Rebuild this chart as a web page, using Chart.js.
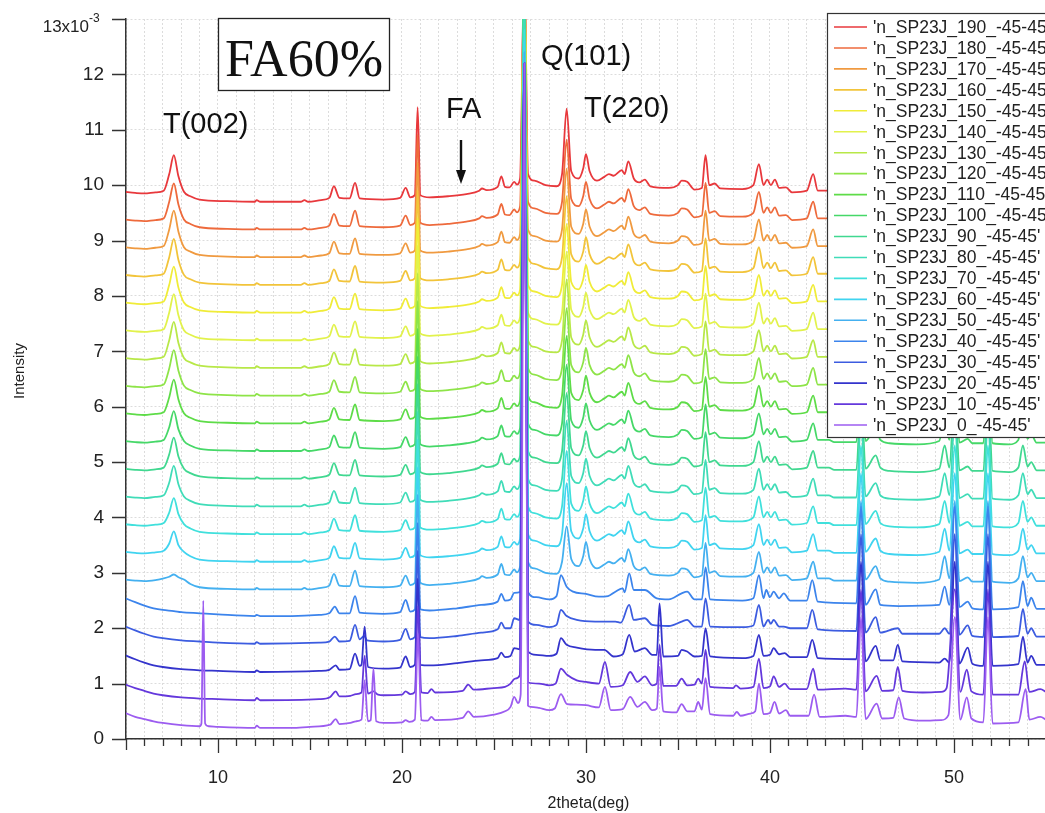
<!DOCTYPE html>
<html>
<head>
<meta charset="utf-8">
<script src="https://cdn.jsdelivr.net/npm/chart.js@4.4.1/dist/chart.umd.min.js"></script>
<style>
  html, body { margin: 0; padding: 0; background: #fff; }
  #wrap { width: 1045px; height: 813px; }
</style>
</head>
<body>
<div id="wrap"><canvas id="xrd" width="1045" height="813"></canvas></div>
<script>
/* ==========================
   Séries (de cima para baixo, como na legenda)
   ========================== */
const seriesNames = [
  "'n_SP23J_190_-45-45'", "'n_SP23J_180_-45-45'", "'n_SP23J_170_-45-45'",
  "'n_SP23J_160_-45-45'", "'n_SP23J_150_-45-45'", "'n_SP23J_140_-45-45'",
  "'n_SP23J_130_-45-45'", "'n_SP23J_120_-45-45'", "'n_SP23J_110_-45-45'",
  "'n_SP23J_100_-45-45'", "'n_SP23J_90_-45-45'", "'n_SP23J_80_-45-45'",
  "'n_SP23J_70_-45-45'", "'n_SP23J_60_-45-45'", "'n_SP23J_50_-45-45'",
  "'n_SP23J_40_-45-45'", "'n_SP23J_30_-45-45'", "'n_SP23J_20_-45-45'",
  "'n_SP23J_10_-45-45'", "'n_SP23J_0_-45-45'"
];
const seriesColors = [
  "#e8383c", "#ee6a3c", "#f09a40", "#f2c43a", "#f0ec38", "#e2f24c", "#b8e848",
  "#8ee448", "#5edc48", "#46d868", "#40d890", "#40dcb8", "#40e0dc", "#40d4f0",
  "#44b0f0", "#3c84ec", "#3c5ce0", "#3434cc", "#6438dc", "#9c5cf0"
];
// valor da linha de base de cada série em 2theta = 12 (x10^-3)
const baselines = [9.7, 9.2, 8.7, 8.2, 7.7, 7.2, 6.7, 6.2, 5.7, 5.2,
                   4.7, 4.2, 3.7, 3.2, 2.7, 2.2, 1.7, 1.2, 0.7, 0.2];

// pico T(002) acima da base, séries 190 .. 50: subida (7.35), topo (7.6), descida (7.85)
const t002Rise = [0.5, 0.5, 0.5, 0.5, 0.5, 0.5, 0.5, 0.49, 0.47, 0.43,
                  0.44, 0.43, 0.39, 0.33, 0.23];
const t002Height = [0.84, 0.83, 0.84, 0.83, 0.83, 0.83, 0.83, 0.82, 0.79, 0.72,
                    0.74, 0.73, 0.65, 0.55, 0.27];
const t002Fall = [0.46, 0.45, 0.46, 0.45, 0.45, 0.45, 0.45, 0.45, 0.43, 0.39,
                  0.4, 0.4, 0.36, 0.3, 0.22];
// pico T(220) acima da base, séries 190 .. 50
const t220Height = [1.68, 1.62, 1.6, 1.6, 1.6, 1.6, 1.6, 1.58, 1.58, 1.56,
                    1.55, 1.55, 1.5, 1.42, 1.14];
// topo do pico Q(101) (valor absoluto, x10^-3)
const q101Top = [14, 14, 14, 14, 14, 14, 14, 14, 14, 14,
                 14, 14, 12.8, 12.6, 12.4, 12.2, 12.2, 12.2, 12.2, 12.2];

/* --------------------------
   Perfis [2theta, intensidade acima da base]
   -------------------------- */
// séries 190 .. 50 (T(002), T(220) e Q(101) entram à parte)
const upperProfile = [
  [4.9, 0.18], [5.5, 0.16], [6.0, 0.15], [6.6, 0.17], [7.05, 0.2],
  [8.15, 0.18], [8.5, 0.1], [9.0, 0.04], [10.5, 0.01], [12.0, 0],
  [12.1, 0.03], [12.3, 0], [14.5, 0], [14.7, 0.03], [14.9, 0], [15.6, 0.03],
  [16.05, 0.07], [16.3, 0.28], [16.6, 0.07], [17.15, 0.06], [17.45, 0.34],
  [17.7, 0.06], [19.0, 0.04], [19.9, 0.07], [20.2, 0.25], [20.45, 0.08],
  [20.7, 0.12], [20.85, 1.71], [21.0, 0.12], [21.5, 0.08], [22.5, 0.1],
  [23.5, 0.14], [24.2, 0.2], [24.35, 0.24], [24.6, 0.21], [25.2, 0.27],
  [25.4, 0.46], [25.6, 0.27], [25.85, 0.26], [26.1, 0.36], [26.25, 0.31],
  [26.42, 0.42], [26.85, 0.5], [27.2, 0.38], [27.8, 0.3], [28.4, 0.28],
  [28.7, 0.5], [29.2, 0.55], [29.6, 0.42], [29.85, 0.6], [30.0, 0.86],
  [30.2, 0.55], [30.6, 0.38], [31.0, 0.45], [31.25, 0.5], [31.5, 0.47],
  [31.95, 0.57], [32.1, 0.5], [32.3, 0.73], [32.6, 0.42], [32.9, 0.35],
  [33.2, 0.4], [33.5, 0.28], [34.5, 0.25], [35.0, 0.3], [35.2, 0.38],
  [35.5, 0.36], [35.9, 0.22], [36.3, 0.25], [36.5, 0.84], [36.7, 0.3],
  [37.0, 0.33], [37.3, 0.24], [38.5, 0.23], [39.1, 0.3], [39.4, 0.68],
  [39.65, 0.3], [39.85, 0.4], [40.05, 0.3], [40.27, 0.4], [40.5, 0.25],
  [40.87, 0.26], [41.2, 0.17], [42.0, 0.2], [42.35, 0.5], [42.6, 0.2],
  [43.2, 0.2], [43.5, 0.16], [44.7, 0.16], [44.95, 1.6], [45.2, 0.18],
  [45.75, 0.42], [46.0, 0.2], [46.5, 0.14], [48.0, 0.12], [49.2, 0.18],
  [49.5, 0.6], [49.75, 0.2], [50.05, 1.6], [50.3, 0.15], [50.75, 0.22],
  [51.0, 0.14], [51.6, 0.14], [51.85, 1.6], [52.1, 0.14], [53.0, 0.12],
  [53.5, 0.2], [53.75, 0.6], [54.0, 0.22], [54.2, 0.3], [54.5, 0.15], [55.0, 0.15]
];
const profile40 = [
  [4.9, 0.35], [5.5, 0.27], [6.0, 0.21], [6.5, 0.16], [7.0, 0.13], [7.6, 0.11],
  [8.0, 0.09], [9.0, 0.07], [10.0, 0.05], [12.0, 0.02], [12.1, 0.04], [12.3, 0.02],
  [14.0, 0.02], [15.5, 0.04], [16.05, 0.07], [16.35, 0.19], [16.6, 0.07],
  [17.15, 0.07], [17.45, 0.38], [17.7, 0.08], [19.0, 0.06], [19.9, 0.09],
  [20.2, 0.31], [20.45, 0.1], [20.7, 0.14], [20.85, 1.7], [21.0, 0.14],
  [21.5, 0.12], [23.0, 0.16], [24.3, 0.22], [25.2, 0.28], [25.4, 0.42],
  [25.6, 0.3], [25.9, 0.32], [26.1, 0.44], [26.4, 0.45], [26.85, 0.45],
  [27.3, 0.36], [28.0, 0.32], [28.4, 0.38], [28.64, 0.76], [28.95, 0.55],
  [29.3, 0.46], [30.0, 0.42], [30.7, 0.37], [31.2, 0.38], [31.6, 0.46],
  [32.0, 0.52], [32.1, 0.45], [32.35, 0.79], [32.6, 0.49], [33.2, 0.49],
  [33.85, 0.34], [34.5, 0.32], [35.2, 0.43], [35.5, 0.46], [35.9, 0.32],
  [36.3, 0.32], [36.5, 0.9], [36.75, 0.32], [38.5, 0.3], [39.1, 0.34],
  [39.4, 0.76], [39.65, 0.34], [39.8, 0.49], [40.0, 0.36], [40.2, 0.46],
  [40.5, 0.34], [40.75, 0.43], [41.1, 0.3], [42.0, 0.3], [42.3, 0.67],
  [42.6, 0.28], [44.7, 0.25], [44.95, 2.0], [45.2, 0.22], [45.75, 0.5],
  [46.0, 0.22], [47.0, 0.2], [49.2, 0.22], [49.5, 0.55], [49.75, 0.22],
  [50.05, 2.0], [50.3, 0.18], [50.75, 0.28], [51.0, 0.16], [51.6, 0.14],
  [51.85, 2.0], [52.1, 0.14], [53.5, 0.18], [53.75, 0.65], [54.0, 0.2],
  [54.2, 0.35], [54.5, 0.15], [55.0, 0.15]
];
const profile30 = [
  [4.9, 0.34], [5.5, 0.26], [6.0, 0.2], [6.5, 0.15], [7.0, 0.12], [8.0, 0.08],
  [9.0, 0.06], [10.0, 0.04], [12.0, 0.02], [12.1, 0.05], [12.3, 0.02], [15.5, 0.04],
  [16.05, 0.06], [16.35, 0.15], [16.6, 0.06], [17.15, 0.07], [17.45, 0.36],
  [17.7, 0.1], [17.95, 0.16], [18.1, 0.08], [19.0, 0.06], [19.9, 0.09],
  [20.2, 0.29], [20.45, 0.1], [20.7, 0.14], [20.85, 1.7], [21.0, 0.14],
  [21.5, 0.12], [23.0, 0.16], [24.3, 0.22], [25.2, 0.28], [25.4, 0.4],
  [25.6, 0.3], [25.9, 0.3], [26.1, 0.48], [26.4, 0.45], [26.85, 0.42],
  [27.3, 0.36], [28.0, 0.32], [28.4, 0.36], [28.64, 0.63], [28.95, 0.52],
  [29.5, 0.45], [30.5, 0.42], [31.0, 0.42], [31.6, 0.42], [31.9, 0.4],
  [32.35, 0.72], [32.6, 0.45], [33.2, 0.48], [33.6, 0.36], [34.5, 0.34],
  [35.2, 0.42], [35.5, 0.45], [35.9, 0.33], [36.3, 0.33], [36.5, 0.84],
  [36.75, 0.33], [38.5, 0.32], [39.1, 0.35], [39.4, 0.72], [39.65, 0.33],
  [39.9, 0.45], [40.05, 0.38], [40.2, 0.45], [40.5, 0.33], [40.75, 0.33],
  [41.1, 0.3], [42.0, 0.3], [42.3, 0.63], [42.6, 0.28], [44.7, 0.25],
  [44.95, 2.0], [45.2, 0.22], [45.75, 0.5], [46.0, 0.22], [46.95, 0.3],
  [47.2, 0.2], [49.2, 0.2], [49.5, 0.3], [49.75, 0.2], [50.05, 2.0],
  [50.3, 0.18], [50.75, 0.35], [51.0, 0.16], [51.6, 0.14], [51.85, 2.0],
  [52.1, 0.14], [53.5, 0.16], [53.75, 0.65], [54.0, 0.2], [54.2, 0.3],
  [54.5, 0.15], [55.0, 0.15]
];
const profile20 = [
  [4.9, 0.32], [5.5, 0.24], [6.0, 0.18], [6.5, 0.13], [7.0, 0.1], [8.0, 0.06],
  [9.0, 0.04], [10.0, 0.03], [12.0, 0.01], [12.1, 0.04], [12.3, 0.01], [15.5, 0.03],
  [16.05, 0.05], [16.4, 0.13], [16.6, 0.05], [17.15, 0.06], [17.45, 0.34],
  [17.7, 0.12], [17.8, 0.14], [17.97, 0.83], [18.15, 0.1], [19.0, 0.07],
  [19.9, 0.09], [20.2, 0.29], [20.45, 0.1], [20.7, 0.14], [20.85, 1.7],
  [21.0, 0.14], [21.5, 0.13], [23.0, 0.17], [24.3, 0.22], [25.2, 0.26],
  [25.4, 0.36], [25.6, 0.28], [25.9, 0.3], [26.1, 0.44], [26.4, 0.42],
  [26.85, 0.38], [27.3, 0.32], [28.0, 0.3], [28.4, 0.34], [28.64, 0.62],
  [28.95, 0.5], [29.5, 0.45], [30.5, 0.41], [31.0, 0.41], [31.5, 0.29],
  [32.0, 0.33], [32.35, 0.68], [32.65, 0.38], [33.2, 0.44], [33.6, 0.32],
  [33.85, 0.32], [34.0, 1.25], [34.2, 0.29], [35.0, 0.3], [35.2, 0.41],
  [35.5, 0.38], [35.9, 0.29], [36.3, 0.3], [36.5, 0.8], [36.75, 0.29],
  [38.5, 0.26], [39.1, 0.3], [39.4, 0.68], [39.65, 0.3], [40.0, 0.32],
  [40.2, 0.44], [40.5, 0.33], [40.8, 0.35], [41.1, 0.28], [42.0, 0.28],
  [42.3, 0.59], [42.6, 0.26], [44.7, 0.24], [44.95, 2.0], [45.2, 0.2],
  [45.75, 0.48], [46.0, 0.22], [46.7, 0.22], [46.95, 0.5], [47.2, 0.2],
  [49.2, 0.18], [49.5, 0.25], [49.75, 0.18], [50.05, 2.0], [50.3, 0.16],
  [50.75, 0.45], [51.0, 0.16], [51.6, 0.12], [51.85, 2.0], [52.1, 0.12],
  [53.5, 0.15], [53.75, 0.65], [54.0, 0.18], [54.2, 0.3], [54.5, 0.14], [55.0, 0.14]
];
const profile10 = [
  [4.9, 0.29], [5.5, 0.22], [6.0, 0.17], [6.5, 0.12], [7.0, 0.09], [8.0, 0.05],
  [9.0, 0.03], [10.0, 0.02], [12.0, 0], [12.1, 0.04], [12.3, 0], [15.5, 0.02],
  [16.1, 0.06], [16.4, 0.16], [16.6, 0.07], [17.2, 0.08], [17.5, 0.11],
  [17.8, 0.14], [17.97, 0.8], [18.15, 0.12], [18.45, 0.16], [18.7, 0.1],
  [19.0, 0.09], [20.0, 0.1], [20.2, 0.16], [20.45, 0.11], [20.7, 0.15],
  [20.87, 1.7], [21.05, 0.14], [21.4, 0.13], [21.6, 0.2], [21.8, 0.14],
  [23.3, 0.17], [23.6, 0.28], [23.9, 0.19], [25.0, 0.22], [25.6, 0.24],
  [25.9, 0.3], [26.15, 0.39], [26.4, 0.45], [26.85, 0.32], [27.45, 0.3],
  [28.0, 0.27], [28.35, 0.3], [28.64, 0.57], [28.97, 0.46], [29.5, 0.36],
  [30.0, 0.33], [30.7, 0.3], [31.03, 0.69], [31.35, 0.24], [32.0, 0.27],
  [32.4, 0.51], [32.8, 0.33], [33.2, 0.43], [33.6, 0.27], [33.85, 0.3],
  [34.0, 1.0], [34.2, 0.26], [34.9, 0.26], [35.2, 0.39], [35.5, 0.27],
  [35.9, 0.28], [36.1, 0.39], [36.3, 0.3], [36.5, 0.91], [36.75, 0.24],
  [38.0, 0.22], [38.15, 0.27], [38.4, 0.21], [39.1, 0.24], [39.4, 0.75],
  [39.65, 0.22], [40.0, 0.25], [40.2, 0.43], [40.5, 0.24], [40.8, 0.3],
  [41.1, 0.2], [42.0, 0.2], [42.35, 0.57], [42.6, 0.19], [44.1, 0.21],
  [44.7, 0.19], [44.95, 2.0], [45.2, 0.16], [45.8, 0.44], [46.1, 0.17],
  [46.7, 0.18], [46.95, 0.6], [47.2, 0.17], [48.3, 0.14], [49.3, 0.15],
  [49.6, 0.22], [50.05, 2.0], [50.35, 0.15], [50.7, 0.55], [50.95, 0.16],
  [51.6, 0.1], [51.85, 2.0], [52.1, 0.1], [53.5, 0.1], [53.85, 0.7],
  [54.1, 0.15], [54.7, 0.2], [55.0, 0.15]
];
const profile0 = [
  [4.9, 0.28], [5.5, 0.2], [6.0, 0.16], [6.5, 0.12], [7.0, 0.09], [8.0, 0.05],
  [9.0, 0.03], [9.1, 0.08], [9.2, 2.3], [9.3, 0.08], [9.5, 0.03], [10.0, 0.02],
  [12.0, 0], [12.1, 0.04], [12.3, 0], [14.0, 0], [15.0, 0.02], [16.1, 0.06],
  [16.4, 0.16], [16.6, 0.07], [17.2, 0.09], [17.5, 0.12], [17.8, 0.15],
  [17.97, 0.86], [18.15, 0.12], [18.3, 0.14], [18.45, 1.08], [18.6, 0.12],
  [19.0, 0.09], [20.0, 0.1], [20.2, 0.14], [20.4, 0.11], [20.7, 0.15],
  [20.87, 1.7], [21.05, 0.14], [21.4, 0.13], [21.6, 0.2], [21.8, 0.14],
  [23.3, 0.18], [23.6, 0.3], [23.9, 0.2], [25.0, 0.24], [25.6, 0.3],
  [25.9, 0.38], [26.1, 0.56], [26.3, 0.45], [26.45, 0.6], [26.85, 0.4],
  [27.0, 0.38], [27.45, 0.36], [28.0, 0.32], [28.3, 0.35], [28.64, 0.61],
  [28.97, 0.43], [29.5, 0.42], [30.0, 0.41], [30.7, 0.37], [31.03, 0.74],
  [31.35, 0.32], [32.0, 0.34], [32.4, 0.56], [32.8, 0.38], [33.2, 0.47],
  [33.6, 0.32], [33.85, 0.35], [34.0, 1.1], [34.2, 0.3], [34.9, 0.28],
  [35.2, 0.43], [35.5, 0.3], [35.9, 0.3], [36.1, 0.47], [36.3, 0.33],
  [36.5, 0.9], [36.75, 0.25], [38.0, 0.22], [38.2, 0.29], [38.4, 0.22],
  [38.95, 0.26], [39.2, 0.3], [39.4, 0.8], [39.65, 0.25], [40.0, 0.27],
  [40.25, 0.47], [40.5, 0.26], [40.87, 0.32], [41.1, 0.22], [42.1, 0.22],
  [42.4, 0.6], [42.7, 0.2], [44.1, 0.22], [44.7, 0.2], [44.95, 2.0],
  [45.2, 0.16], [45.8, 0.44], [46.1, 0.17], [46.7, 0.18], [47.0, 0.55],
  [47.3, 0.17], [48.3, 0.13], [49.3, 0.14], [49.7, 0.23], [50.05, 2.0],
  [50.35, 0.15], [50.7, 0.55], [50.95, 0.17], [51.6, 0.1], [51.85, 2.0],
  [52.1, 0.08], [53.5, 0.1], [53.9, 0.7], [54.1, 0.15], [54.7, 0.2], [55.0, 0.15]
];
const lowerProfiles = [profile40, profile30, profile20, profile10, profile0];

/* ==========================
   Montagem das séries
   ========================== */
function buildSeries(i) {
  const base = baselines[i];
  let pts;
  if (i < t002Height.length) {
    pts = upperProfile.concat([
      [7.35, t002Rise[i]], [7.6, t002Height[i]], [7.85, t002Fall[i]],
      [28.95, t220Height[i]],
    ]);
  } else {
    pts = lowerProfiles[i - t002Height.length].slice();
  }
  pts.push([26.65, q101Top[i] - base]);
  pts.sort((a, b) => a[0] - b[0]);
  return pts.map((p) => ({ x: p[0], y: base + p[1] }));
}

const datasets = seriesNames.map((name, i) => ({
  label: name,
  data: buildSeries(i),
  borderColor: seriesColors[i],
  borderWidth: 1.8,
  pointRadius: 0,
  fill: false,
  cubicInterpolationMode: "monotone",
  order: seriesNames.length - 1 - i, // série 0 desenhada por cima
}));

/* ==========================
   Desenho extra: ticks, textos, legenda
   ========================== */
const FONT = "'Liberation Sans', Arial, sans-serif";

const decorPlugin = {
  id: "decor",
  afterDraw(chart) {
    const ctx = chart.ctx;
    const xs = chart.scales.x;
    const ys = chart.scales.y;
    ctx.save();

    // ticks do eixo x
    ctx.strokeStyle = "#333";
    ctx.lineWidth = 1.3;
    ctx.beginPath();
    for (let v = 5; v <= 54; v++) {
      const px = Math.round(xs.getPixelForValue(v)) + 0.5;
      const len = v % 10 === 0 ? 14 : v % 5 === 0 ? 11 : 7;
      ctx.moveTo(px, ys.bottom);
      ctx.lineTo(px, ys.bottom + len);
    }
    // ticks do eixo y
    for (let v = 0; v <= 13; v++) {
      const py = Math.round(ys.getPixelForValue(v)) + 0.5;
      ctx.moveTo(xs.left - 14, py);
      ctx.lineTo(xs.left, py);
    }
    ctx.stroke();

    // rótulo 13x10^-3
    ctx.fillStyle = "#222";
    ctx.textBaseline = "alphabetic";
    ctx.textAlign = "right";
    ctx.font = "17px " + FONT;
    const y13 = ys.getPixelForValue(13);
    ctx.fillText("13x10", 89, y13 + 13);
    ctx.textAlign = "left";
    ctx.font = "12px " + FONT;
    ctx.fillText("-3", 89, y13 + 3);

    // títulos dos eixos
    ctx.font = "16px " + FONT;
    ctx.textAlign = "center";
    ctx.fillText("2theta(deg)", (xs.left + xs.right) / 2 + 3, 808);
    ctx.save();
    ctx.translate(24, (ys.top + ys.bottom) / 2 - 8);
    ctx.rotate(-Math.PI / 2);
    ctx.font = "15px " + FONT;
    ctx.fillText("Intensity", 0, 0);
    ctx.restore();

    // anotações
    ctx.fillStyle = "#111";
    ctx.textAlign = "left";
    ctx.font = "29px " + FONT;
    ctx.fillText("T(002)", 163, 133);
    ctx.fillText("FA", 446, 118);
    ctx.fillText("Q(101)", 541, 65);
    ctx.fillText("T(220)", 584, 117);

    // seta FA
    ctx.strokeStyle = "#111";
    ctx.lineWidth = 2.4;
    ctx.beginPath();
    ctx.moveTo(461, 140);
    ctx.lineTo(461, 174);
    ctx.stroke();
    ctx.beginPath();
    ctx.moveTo(456, 170);
    ctx.lineTo(466, 170);
    ctx.lineTo(461, 184);
    ctx.closePath();
    ctx.fill();

    // caixa FA60%
    ctx.fillStyle = "#fff";
    ctx.fillRect(218, 18, 172, 73);
    ctx.strokeStyle = "#222";
    ctx.lineWidth = 1.3;
    ctx.strokeRect(218.5, 18.5, 171, 72);
    ctx.fillStyle = "#111";
    ctx.font = "52px 'Liberation Serif', 'DejaVu Serif', serif";
    ctx.textAlign = "center";
    ctx.fillText("FA60%", 304, 76);

    // legenda
    const lx = 827, ly = 13, lh = 424;
    ctx.fillStyle = "#fff";
    ctx.fillRect(lx, ly, 1045 - lx + 5, lh);
    ctx.strokeStyle = "#333";
    ctx.lineWidth = 1.2;
    ctx.strokeRect(lx + 0.5, ly + 0.5, 1045 - lx + 10, lh);
    ctx.font = "17.5px " + FONT;
    ctx.textAlign = "left";
    ctx.textBaseline = "middle";
    chart.data.datasets.forEach((ds, i) => {
      const yy = 27 + i * 20.95;
      ctx.strokeStyle = ds.borderColor;
      ctx.lineWidth = 1.6;
      ctx.beginPath();
      ctx.moveTo(834, yy);
      ctx.lineTo(867, yy);
      ctx.stroke();
      ctx.fillStyle = "#222";
      ctx.fillText(ds.label, 873, yy + 1);
    });
    ctx.restore();
  },
};

/* ==========================
   Gráfico
   ========================== */
new Chart(document.getElementById("xrd").getContext("2d"), {
  type: "line",
  data: { datasets },
  options: {
    responsive: false,
    animation: false,
    events: [],
    layout: { padding: { top: 19, right: 0, left: 0, bottom: 0 } },
    plugins: { legend: { display: false }, tooltip: { enabled: false } },
    scales: {
      x: {
        type: "linear",
        min: 5,
        max: 54.95,
        afterFit: (s) => {
          s.height = 74;
          s.paddingLeft = 0;
          s.paddingRight = 0;
        },
        border: { display: true, color: "#333", width: 1.5, dash: [2, 2] },
        grid: { color: "#dcdcdc", lineWidth: 1, drawTicks: false },
        ticks: {
          stepSize: 1,
          autoSkip: false,
          maxRotation: 0,
          includeBounds: false,
          padding: 28,
          color: "#222",
          font: { size: 18, family: FONT },
          callback: (v) => (v % 10 === 0 ? String(v) : ""),
        },
      },
      y: {
        min: 0,
        max: 13,
        afterFit: (s) => {
          s.width = 126;
          s.paddingTop = 0;
          s.paddingBottom = 0;
        },
        border: { display: true, color: "#333", width: 1.5, dash: [2, 2] },
        grid: { color: "#dcdcdc", lineWidth: 1, drawTicks: false },
        ticks: {
          stepSize: 1,
          padding: 22,
          color: "#222",
          font: { size: 19, family: FONT },
          callback: (v) => (v === 13 ? "" : String(v)),
        },
      },
    },
  },
  plugins: [decorPlugin],
});
</script>
</body>
</html>
